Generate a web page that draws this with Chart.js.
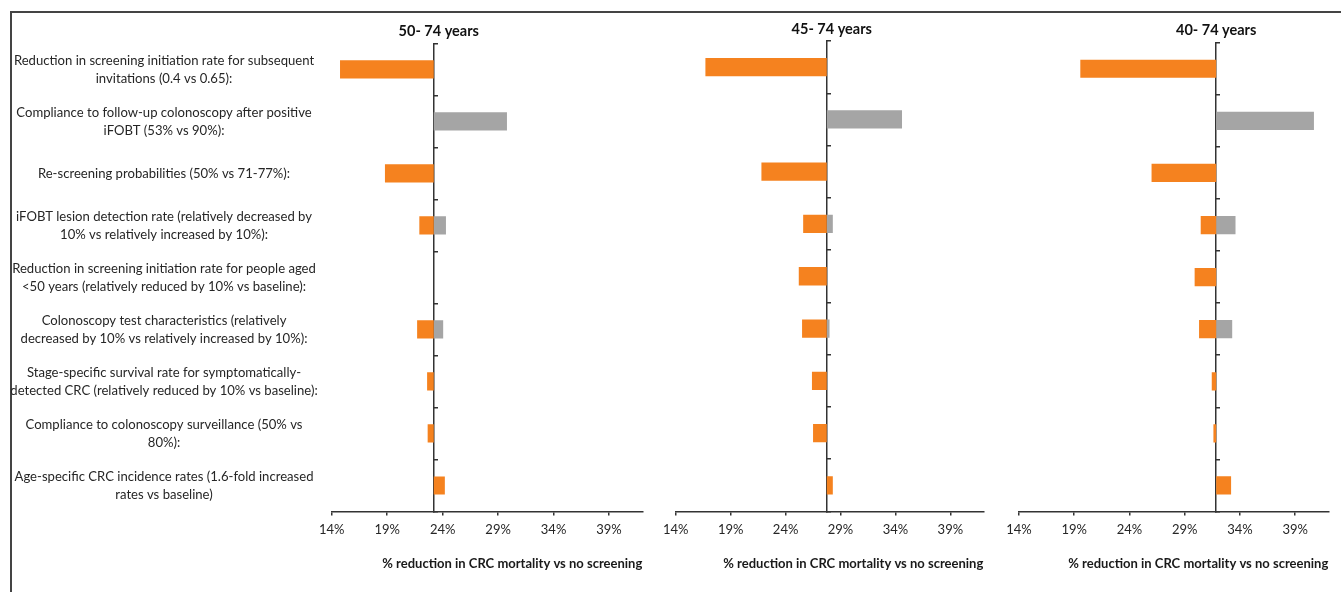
<!DOCTYPE html>
<html>
<head>
<meta charset="utf-8">
<script src="https://cdn.jsdelivr.net/npm/chart.js@4.4.1/dist/chart.umd.min.js"></script>
<style>
  html, body { margin: 0; padding: 0; background: #fff; }
  body { width: 1341px; height: 592px; position: relative; overflow: hidden; }
  #frame { position: absolute; left: 10px; top: 11px; right: -5px; bottom: -5px;
           border-top: 2px solid #444; border-left: 2px solid #444; }
  .panel { position: absolute; top: 0; height: 592px; }
  #p1 { left: 0; width: 660px; }
  #p2 { left: 660px; width: 340px; }
  #p3 { left: 1000px; width: 341px; }
</style>
</head>
<body>
<div id="frame"></div>
<div class="panel" id="p1"><canvas id="chart50"></canvas></div>
<div class="panel" id="p2"><canvas id="chart45"></canvas></div>
<div class="panel" id="p3"><canvas id="chart40"></canvas></div>

<script>
// parametri (categorii, de sus in jos)
const parameters = [
    ['Reduction in screening initiation rate for subsequent', 'invitations (0.4 vs 0.65):'],
    ['Compliance to follow-up colonoscopy after positive', 'iFOBT (53% vs 90%):'],
    'Re-screening probabilities (50% vs 71-77%):',
    ['iFOBT lesion detection rate (relatively decreased by', '10% vs relatively increased by 10%):'],
    ['Reduction in screening initiation rate for people aged', '<50 years (relatively reduced by 10% vs baseline):'],
    ['Colonoscopy test characteristics (relatively', 'decreased by 10% vs relatively increased by 10%):'],
    ['Stage-specific survival rate for symptomatically-', 'detected CRC (relatively reduced by 10% vs baseline):'],
    ['Compliance to colonoscopy surveillance (50% vs', '80%):'],
    ['Age-specific CRC incidence rates (1.6-fold increased', 'rates vs baseline)']
];

// tick-uri axa x (%)
const pctTicks = [14, 19, 24, 29, 34, 39];

// valori de baza (% reducere mortalitate)
const base50 = 23.2;
const base45 = 27.75;
const base40 = 31.85;

// 50-74 ani
const orange50 = [14.75, null, 18.8, 21.9, null, 21.7, 22.6, 22.65, 24.2];
const grey50   = [null, 29.8, null, 24.3, null, 24.05, null, null, null];

// 45-74 ani
const orange45 = [16.7, null, 21.8, 25.6, 25.2, 25.5, 26.4, 26.5, 28.3];
const grey45   = [null, 34.6, null, 28.3, null, 28.0, null, null, null];

// 40-74 ani
const orange40 = [19.55, null, 26.0, 30.45, 29.9, 30.3, 31.45, 31.6, 33.2];
const grey40   = [null, 40.7, null, 33.6, null, 33.3, null, null, null];

const axisColor = '#333';
const textColor = '#262626';

// titlul fiecarui panou, deasupra axei verticale
const panelTitle = {
    id: 'panelTitle',
    afterDraw(chart, args, opts) {
        const ctx = chart.ctx;
        const x = chart.scales.x.getPixelForValue(opts.at) + opts.dx;
        ctx.save();
        ctx.font = 'bold 14.5px Lato';
        ctx.fillStyle = '#111';
        ctx.textAlign = 'center';
        ctx.textBaseline = 'middle';
        ctx.fillText(opts.text, x, opts.y);
        ctx.restore();
    }
};

function floating(values, base) {
    return values.map(v => v === null ? null : [base, v]);
}

function makePanel(id, title, base, orange, grey, opts) {
    const ctx = document.getElementById(id).getContext('2d');
    return new Chart(ctx, {
        type: 'bar',
        data: {
            labels: parameters,
            datasets: [
                {
                    label: 'low',
                    data: floating(orange, base),
                    backgroundColor: '#F5821F',
                    borderWidth: 0,
                    grouped: false,
                    barPercentage: 0.35,
                    categoryPercentage: 1
                },
                {
                    label: 'high',
                    data: floating(grey, base),
                    backgroundColor: '#A5A5A5',
                    borderWidth: 0,
                    grouped: false,
                    barPercentage: 0.35,
                    categoryPercentage: 1
                }
            ]
        },
        options: {
            indexAxis: 'y',
            responsive: true,
            maintainAspectRatio: false,
            animation: false,
            layout: { padding: { left: opts.left, right: opts.right, top: opts.top, bottom: 1 } },
            plugins: {
                legend: { display: false },
                tooltip: { enabled: false },
                panelTitle: { text: title, at: base, dx: opts.dx, y: opts.titleY }
            },
            scales: {
                x: {
                    type: 'linear',
                    min: 14,
                    max: 42,
                    afterBuildTicks: s => { s.ticks = pctTicks.map(v => ({ value: v })); },
                    afterFit: s => { s.height = 79.5; },
                    ticks: {
                        callback: v => v + '%',
                        color: textColor,
                        font: { family: 'Lato', size: 13, lineHeight: '22px' },
                        padding: 3,
                        maxRotation: 0,
                        autoSkip: false
                    },
                    grid: { drawOnChartArea: false, tickLength: 4, color: axisColor, lineWidth: 1.5 },
                    border: { color: axisColor, width: 1.5 },
                    title: {
                        display: true,
                        text: '% reduction in CRC mortality vs no screening',
                        align: 'end',
                        color: '#1a1a1a',
                        font: { family: 'Lato', size: 13, weight: 'bold' },
                        padding: { top: 0, bottom: 19 }
                    }
                },
                y: {
                    type: 'category',
                    position: 'left',
                    display: opts.labels,
                    offset: true,
                    afterFit: s => { s.width = opts.labelWidth; },
                    ticks: {
                        crossAlign: 'center',
                        padding: 14,
                        color: textColor,
                        font: { family: 'Lato', size: 13.1, lineHeight: '18px' },
                        autoSkip: false
                    },
                    grid: { display: false, drawTicks: false },
                    border: { display: false }
                },
                y2: {
                    type: 'category',
                    position: { x: base },
                    offset: true,
                    ticks: { display: false },
                    grid: { offset: true, drawOnChartArea: false, tickLength: -5, color: axisColor, lineWidth: 1.5 },
                    border: { display: true, color: axisColor, width: 1.5 }
                }
            }
        },
        plugins: [panelTitle]
    });
}

makePanel('chart50', '50- 74 years', base50, orange50, grey50,
    { labels: true, labelWidth: 331.7, left: 0, right: 17.7, top: 43.3, dx: 5, titleY: 31 });
makePanel('chart45', '45- 74 years', base45, orange45, grey45,
    { labels: false, labelWidth: 0, left: 15, right: 16.7, top: 41, dx: 5, titleY: 29 });
makePanel('chart40', '40- 74 years', base40, orange40, grey40,
    { labels: false, labelWidth: 0, left: 19, right: 12.7, top: 42.7, dx: 0, titleY: 30 });
</script>
</body>
</html>
